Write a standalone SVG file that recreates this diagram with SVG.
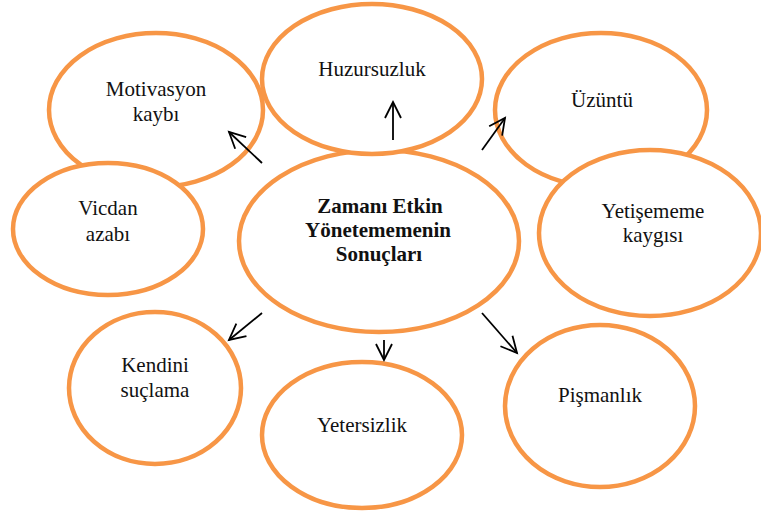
<svg xmlns="http://www.w3.org/2000/svg" width="761" height="516" viewBox="0 0 761 516">
<style>
.n ellipse{fill:#fff;stroke:#F79646;stroke-width:4.5}
text{font-family:"Liberation Serif","Times New Roman",serif;font-size:21px;fill:#111;text-anchor:middle}
.b{font-weight:bold}
.c line{stroke:#000;stroke-width:1.8;marker-end:url(#ah)}
</style>
<defs>
<marker id="ah" markerUnits="userSpaceOnUse" markerWidth="24" markerHeight="24" viewBox="-20 -12 24 24" refX="0" refY="0" orient="auto">
<path d="M-16,-8 L0,0 L-16,8" fill="none" stroke="#000" stroke-width="1.8"/>
</marker>
</defs>
<rect width="761" height="516" fill="#fff"/>
<g id="motivasyon" class="n"><ellipse cx="156" cy="110" rx="107" ry="77"/><text x="156" y="96">Motivasyon</text><text x="156" y="121">kaybı</text></g>
<g id="vicdan" class="n"><ellipse cx="108" cy="229" rx="95" ry="66"/><text x="108" y="215">Vicdan</text><text x="108" y="241">azabı</text></g>
<g id="merkez" class="n"><ellipse cx="379" cy="241" rx="140" ry="91"/><text class="b" x="380" y="213">Zamanı Etkin</text><text class="b" x="378" y="237">Yönetememenin</text><text class="b" x="379" y="261">Sonuçları</text></g>
<g id="huzursuzluk" class="n"><ellipse cx="372" cy="79" rx="110" ry="75"/><text x="372" y="76">Huzursuzluk</text></g>
<g id="uzuntu" class="n"><ellipse cx="601" cy="110" rx="106" ry="77"/><text x="602" y="107">Üzüntü</text></g>
<g id="yetisememe" class="n"><ellipse cx="650" cy="233" rx="111" ry="83"/><text x="653" y="218">Yetişememe</text><text x="653" y="242">kaygısı</text></g>
<g id="kendini" class="n"><ellipse cx="155" cy="388" rx="86" ry="76"/><text x="155" y="372">Kendini</text><text x="155" y="397">suçlama</text></g>
<g id="yetersizlik" class="n"><ellipse cx="362" cy="435" rx="100" ry="73"/><text x="362" y="432">Yetersizlik</text></g>
<g id="pismanlik" class="n"><ellipse cx="600" cy="406" rx="95" ry="81"/><text x="600" y="402">Pişmanlık</text></g>
<g id="connectors" class="c">
<line x1="262" y1="163" x2="229" y2="132"/>
<line x1="393" y1="140" x2="393" y2="102"/>
<line x1="482" y1="150" x2="505" y2="118"/>
<line x1="262" y1="313" x2="229" y2="340"/>
<line x1="384" y1="340" x2="384" y2="360"/>
<line x1="482" y1="313" x2="517" y2="353"/>
</g>
</svg>
